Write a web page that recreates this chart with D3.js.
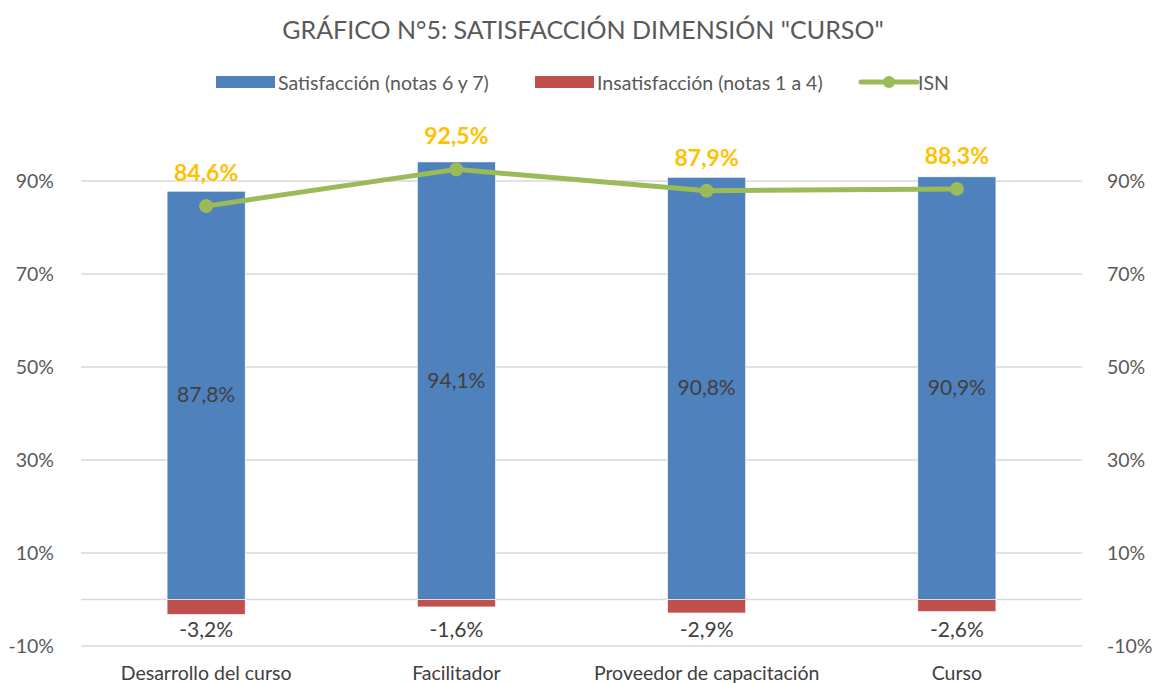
<!DOCTYPE html>
<html>
<head>
<meta charset="utf-8">
<script src="https://cdn.jsdelivr.net/npm/d3@7"></script>
<style>
  body { margin: 0; background: #fff; }
  text { font-family: Lato, "Open Sans", sans-serif; }
</style>
</head>
<body>
<div id="chart"></div>
<script>
const categories = ["Desarrollo del curso", "Facilitador", "Proveedor de capacitación", "Curso"];
const satisfaccion = [87.8, 94.1, 90.8, 90.9];
const insatisfaccion = [-3.2, -1.6, -2.9, -2.6];
const isn = [84.6, 92.5, 87.9, 88.3];
const yTicks = [-10, 10, 30, 50, 70, 90];

const width = 1154, height = 683;
const margin = { left: 81, right: 72 };
const fmt = v => v.toFixed(1).replace(".", ",") + "%";

const svg = d3.select("#chart").append("svg")
  .attr("width", width)
  .attr("height", height);

const x = d3.scaleBand()
  .domain(categories)
  .range([margin.left, width - margin.right])
  .paddingInner(0.688)
  .paddingOuter(0.344);

const y = d3.scaleLinear()
  .domain([-10, 100])
  .range([646, 134.5]);

// title
svg.append("text")
  .attr("x", 583).attr("y", 39)
  .attr("text-anchor", "middle")
  .attr("fill", "#595959")
  .style("font-size", "25px")
  .text('GRÁFICO N°5: SATISFACCIÓN DIMENSIÓN "CURSO"');

// gridlines
svg.selectAll(".grid")
  .data(yTicks.concat([0]))
  .join("line")
  .attr("x1", margin.left).attr("x2", width - margin.right)
  .attr("y1", d => y(d)).attr("y2", d => y(d))
  .attr("stroke", "#d9d9d9")
  .attr("stroke-width", 1.3);

// left / right axes
const leftAxis = svg.append("g")
  .attr("transform", `translate(${margin.left - 24},0)`)
  .call(d3.axisLeft(y).tickValues(yTicks).tickSize(0).tickFormat(d => d + "%"));
const rightAxis = svg.append("g")
  .attr("transform", `translate(${width - margin.right + 22},0)`)
  .call(d3.axisRight(y).tickValues(yTicks).tickSize(0).tickFormat(d => d + "%"));
[leftAxis, rightAxis].forEach(a => {
  a.select(".domain").remove();
  a.selectAll("text")
    .attr("fill", "#595959")
    .style("font-size", "19.5px")
    .style("font-family", "Lato, sans-serif");
});

// bars
svg.selectAll(".sat")
  .data(categories)
  .join("rect")
  .attr("x", d => x(d))
  .attr("width", x.bandwidth())
  .attr("y", (d, i) => y(satisfaccion[i]))
  .attr("height", (d, i) => y(0) - y(satisfaccion[i]))
  .attr("fill", "#4F81BD")
  .attr("stroke", "#fff").attr("stroke-width", 0.6);

svg.selectAll(".insat")
  .data(categories)
  .join("rect")
  .attr("x", d => x(d))
  .attr("width", x.bandwidth())
  .attr("y", y(0))
  .attr("height", (d, i) => y(insatisfaccion[i]) - y(0))
  .attr("fill", "#C0504D")
  .attr("stroke", "#fff").attr("stroke-width", 0.6);

// bar labels
svg.selectAll(".satLabel")
  .data(categories)
  .join("text")
  .attr("x", d => x(d) + x.bandwidth() / 2)
  .attr("y", (d, i) => (y(0) + y(satisfaccion[i])) / 2 + 7)
  .attr("text-anchor", "middle")
  .attr("fill", "#404040")
  .style("font-size", "21px")
  .text((d, i) => fmt(satisfaccion[i]));

svg.selectAll(".insatLabel")
  .data(categories)
  .join("text")
  .attr("x", d => x(d) + x.bandwidth() / 2)
  .attr("y", 637)
  .attr("text-anchor", "middle")
  .attr("fill", "#404040")
  .style("font-size", "21px")
  .text((d, i) => fmt(insatisfaccion[i]));

// ISN line
const cx = d => x(d) + x.bandwidth() / 2;
svg.append("path")
  .datum(categories)
  .attr("fill", "none")
  .attr("stroke", "#9BBB59")
  .attr("stroke-width", 5)
  .attr("stroke-linejoin", "round")
  .attr("d", d3.line().x(d => cx(d)).y((d, i) => y(isn[i])));

svg.selectAll(".isnDot")
  .data(categories)
  .join("circle")
  .attr("cx", d => cx(d))
  .attr("cy", (d, i) => y(isn[i]))
  .attr("r", 7)
  .attr("fill", "#9BBB59");

svg.selectAll(".isnLabel")
  .data(categories)
  .join("text")
  .attr("x", d => cx(d))
  .attr("y", (d, i) => y(isn[i]) - 25)
  .attr("text-anchor", "middle")
  .attr("fill", "#FFC000")
  .style("font-size", "23px")
  .style("font-weight", "bold")
  .text((d, i) => fmt(isn[i]));

// category labels
svg.selectAll(".cat")
  .data(categories)
  .join("text")
  .attr("x", d => cx(d))
  .attr("y", 680)
  .attr("text-anchor", "middle")
  .attr("fill", "#404040")
  .style("font-size", "19.5px")
  .text(d => d);

// legend
const legend = svg.append("g");
legend.append("rect").attr("x", 216).attr("y", 76).attr("width", 59).attr("height", 12).attr("fill", "#4F81BD");
legend.append("text").attr("x", 278).attr("y", 90).attr("fill", "#595959").style("font-size", "19.5px")
  .text("Satisfacción (notas 6 y 7)");
legend.append("rect").attr("x", 535).attr("y", 76).attr("width", 59).attr("height", 12).attr("fill", "#C0504D");
legend.append("text").attr("x", 597).attr("y", 90).attr("fill", "#595959").style("font-size", "19.5px")
  .text("Insatisfacción (notas 1 a 4)");
legend.append("line").attr("x1", 861).attr("x2", 917).attr("y1", 82).attr("y2", 82)
  .attr("stroke", "#9BBB59").attr("stroke-width", 5).attr("stroke-linecap", "round");
legend.append("circle").attr("cx", 889).attr("cy", 82).attr("r", 6).attr("fill", "#9BBB59");
legend.append("text").attr("x", 918).attr("y", 90).attr("fill", "#595959").style("font-size", "19.5px")
  .text("ISN");
</script>
</body>
</html>
